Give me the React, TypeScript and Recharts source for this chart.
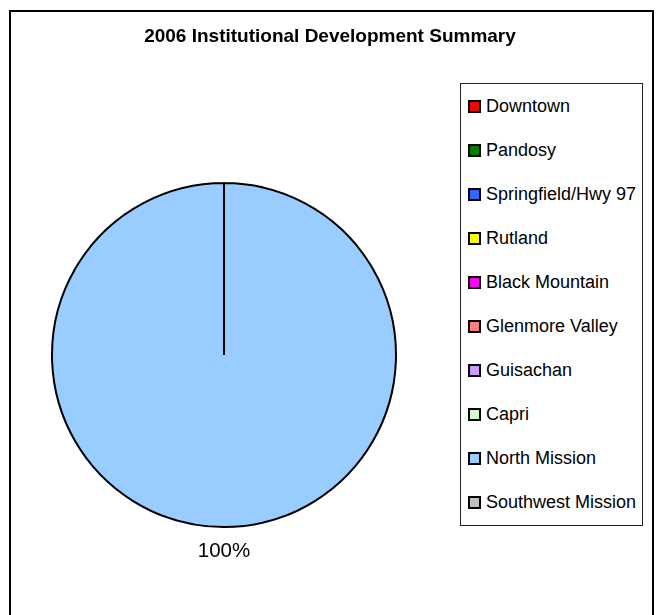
import { PieChart, Pie, Cell, Legend } from 'recharts';

const areas = [
  'Downtown',
  'Pandosy',
  'Springfield/Hwy 97',
  'Rutland',
  'Black Mountain',
  'Glenmore Valley',
  'Guisachan',
  'Capri',
  'North Mission',
  'Southwest Mission',
];

// only North Mission had institutional development in 2006
const developed = [0, 0, 0, 0, 0, 0, 0, 0, 1, 0];

const areaColors = [
  '#FF0000',
  '#008000',
  '#3366FF',
  '#FFFF00',
  '#FF00FF',
  '#FF8080',
  '#CC99FF',
  '#CCFFCC',
  '#99CCFF',
  '#C0C0C0',
];

const chartTitle = '2006 Institutional Development Summary';

const pieData = areas.map((name, i) => ({ name, value: developed[i] }));

const FONT = '"Liberation Sans", Arial, sans-serif';

function renderLabel(props: any) {
  const { cx, cy, midAngle, outerRadius, percent, value } = props;
  if (!value) return null;
  const RAD = Math.PI / 180;
  const r = outerRadius + 30;
  const x = cx + r * Math.cos(-midAngle * RAD);
  const y = cy + r * Math.sin(-midAngle * RAD);
  return (
    <text x={x} y={y} textAnchor="middle" fontSize={20.5} fontFamily={FONT} fill="#000">
      {`${Math.round(percent * 100)}%`}
    </text>
  );
}

function AreaLegend() {
  return (
    <div
      style={{
        width: 183,
        height: 443,
        boxSizing: 'border-box',
        border: '1px solid #222',
        background: '#fff',
        display: 'flex',
        flexDirection: 'column',
        fontFamily: FONT,
        fontSize: 18,
        color: '#000',
      }}
    >
      {areas.map((name, i) => (
        <div
          key={name}
          style={{ flex: 1, display: 'flex', alignItems: 'center', paddingLeft: 7 }}
        >
          <span
            style={{
              width: 9,
              height: 9,
              border: '2px solid #000',
              background: areaColors[i],
              marginRight: 5,
              flexShrink: 0,
            }}
          />
          <span style={{ whiteSpace: 'nowrap' }}>{name}</span>
        </div>
      ))}
    </div>
  );
}

export default function App() {
  return (
    <div style={{ position: 'fixed', left: 8, top: 8, width: 649, height: 607, overflow: 'hidden' }}>
      {/* outer frame */}
      <div
        style={{
          position: 'absolute',
          left: 1,
          top: 2,
          width: 645,
          height: 640,
          boxSizing: 'border-box',
          border: '2px solid #000',
        }}
      />

      <svg width={645} height={60} style={{ position: 'absolute', left: 0, top: 0 }}>
        <text
          x={322}
          y={34}
          textAnchor="middle"
          fontFamily={FONT}
          fontWeight="bold"
          fontSize={19}
          fill="#000"
        >
          {chartTitle}
        </text>
      </svg>

      <div style={{ position: 'absolute', left: 0, top: 0 }}>
        <PieChart width={645} height={600} margin={{ top: 0, right: 0, bottom: 0, left: 0 }}>
          <Pie
            data={pieData}
            dataKey="value"
            nameKey="name"
            cx={216}
            cy={347}
            outerRadius={172}
            startAngle={90}
            endAngle={-270}
            stroke="#000"
            strokeWidth={2}
            label={renderLabel}
            labelLine={false}
            isAnimationActive={false}
          >
            {pieData.map((d, i) => (
              <Cell key={d.name} fill={areaColors[i]} />
            ))}
          </Pie>
          <Legend
            layout="vertical"
            verticalAlign="top"
            align="right"
            content={() => <AreaLegend />}
            wrapperStyle={{ position: 'absolute', left: 452, top: 75, width: 183, height: 443 }}
          />
        </PieChart>
      </div>
    </div>
  );
}
